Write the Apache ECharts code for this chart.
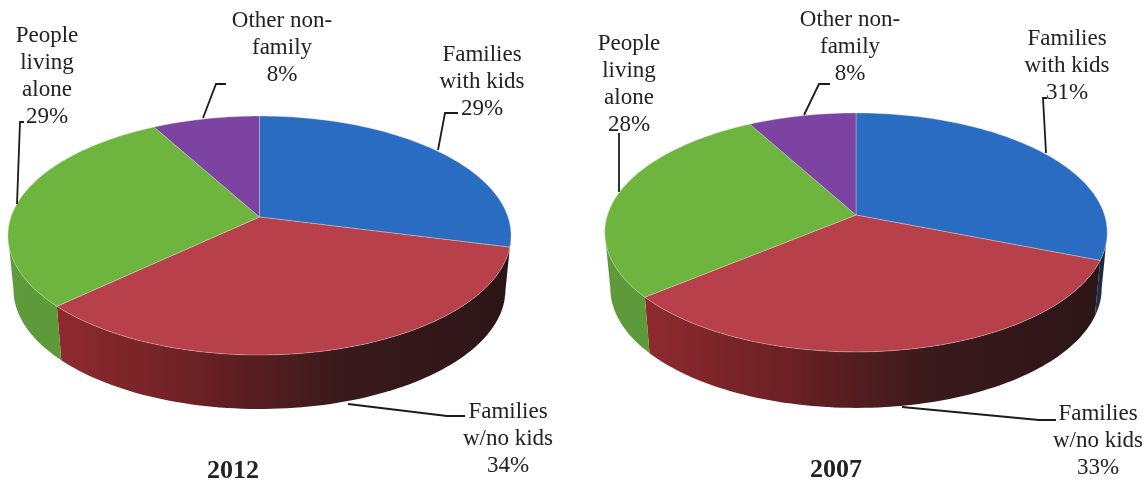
<!DOCTYPE html>
<html>
<head>
<meta charset="utf-8">
<style>html,body{margin:0;padding:0;background:#fff}#chart{width:1148px;height:482px}</style>
<script src="https://cdn.jsdelivr.net/npm/echarts@6/dist/echarts.min.js"></script>
</head>
<body>
<div id="chart"></div>
<script>
// Household shares, clockwise from twelve o'clock.
const categoryLines = [
  ['Families', 'with kids'],
  ['Families', 'w/no kids'],
  ['People', 'living', 'alone'],
  ['Other non-', 'family']
];
const years = ['2012', '2007'];
const values2012 = [29, 34, 29, 8];
const values2007 = [31, 33, 28, 8];

const topColors = ['#2a6cc2', '#b8404a', '#6db53e', '#7c43a2'];
const sideFills = [
  ['#23344f', '#1b2434'],
  ['#8f2a2f', '#2c1517'],
  ['#5f9a3c', '#5c9a3a'],
  ['#4a2a66', '#4a2a66']
];

// Tilted disc: apex position, half widths, perspective strength and wall height.
const discs = [
  { x: 259.5, y: 217, a: 248.5, b: 116.6, k: -0.155, depth: 54, shrink: 0.978 },
  { x: 856, y: 215, a: 248.5, b: 116.9, k: -0.146, depth: 56, shrink: 0.978 }
];

// Label centres and leader polylines, per disc and category.
const labelLayouts = [
  [
    { x: 482, y: 41, line: [[438, 150], [445, 113], [458, 113]] },
    { x: 508, y: 398, line: [[348, 404], [447, 416], [465, 416]] },
    { x: 47, y: 22, line: [[17, 204], [20, 122], [24, 122]] },
    { x: 282, y: 7, line: [[203, 118], [216, 84], [226, 84]] }
  ],
  [
    { x: 1067, y: 25, line: [[1046, 153], [1043, 98], [1047, 98]] },
    { x: 1098, y: 400, line: [[902, 407], [1039, 420], [1056, 420]] },
    { x: 629, y: 30, line: [[619, 192], [619, 133]] },
    { x: 850, y: 6, line: [[804, 115], [819, 84], [830, 84]] }
  ]
];

const TEXT_FONT = '23px "Liberation Serif"';
const TEXT_COLOR = '#222222';

function rimPoint(d, deg) {
  const t = deg * Math.PI / 180;
  const u = Math.sin(t), v = -Math.cos(t);
  const w = 1 + d.k * v;
  return [d.x + d.a * u / w, d.y + d.b * v / w];
}

function arcPoints(d, from, to) {
  const pts = [];
  const n = Math.max(2, Math.ceil((to - from) / 1.5));
  for (let i = 0; i <= n; i++) pts.push(rimPoint(d, from + (to - from) * i / n));
  return pts;
}

function pieSeries(discIndex, values) {
  const d = discs[discIndex];
  const total = values.reduce((s, v) => s + v, 0);
  // Rim angle where the wall starts and stops being visible.
  const silhouette = Math.acos(d.k) * 180 / Math.PI;
  return {
    type: 'custom',
    coordinateSystem: 'none',
    silent: true,
    animation: false,
    data: values.map(v => [v]),
    renderItem(params, api) {
      const i = params.dataIndex;
      const before = values.slice(0, i).reduce((s, v) => s + v, 0);
      const start = before / total * 360;
      const end = (before + api.value(0)) / total * 360;
      const children = [];

      const wallFrom = Math.max(start, silhouette);
      const wallTo = Math.min(end, 360 - silhouette);
      if (wallTo > wallFrom) {
        const upper = arcPoints(d, wallFrom, wallTo);
        const lower = upper.map(p => [d.x + (p[0] - d.x) * d.shrink, p[1] + d.depth]).reverse();
        const fill = sideFills[i];
        children.push({
          type: 'polygon',
          shape: { points: upper.concat(lower) },
          style: {
            fill: {
              type: 'linear', x: 1, y: 0, x2: 0, y2: 0,
              colorStops: i === 1
                ? [{ offset: 0, color: fill[1] }, { offset: 0.38, color: '#3a1a1c' },
                   { offset: 0.68, color: '#6a2024' }, { offset: 1, color: fill[0] }]
                : [{ offset: 0, color: fill[1] }, { offset: 1, color: fill[0] }]
            }
          }
        });
      }

      children.push({
        type: 'polygon',
        shape: { points: [[d.x, d.y]].concat(arcPoints(d, start, end)) },
        style: { fill: topColors[i], stroke: 'rgba(225,225,215,0.45)', lineWidth: 0.8, lineJoin: 'round' }
      });

      const layout = labelLayouts[discIndex][i];
      children.push({
        type: 'polyline',
        shape: { points: layout.line },
        style: { fill: null, stroke: '#1c1c1c', lineWidth: 1.8 }
      });
      children.push({
        type: 'text',
        style: {
          text: categoryLines[i].concat(api.value(0) + '%').join('\n'),
          x: layout.x,
          y: layout.y,
          align: 'center',
          verticalAlign: 'top',
          font: TEXT_FONT,
          lineHeight: 27,
          fill: TEXT_COLOR
        }
      });
      return { type: 'group', children };
    }
  };
}

const chart = echarts.init(document.getElementById('chart'), null, { renderer: 'canvas' });
const yearTextStyle = {
  fontFamily: 'Liberation Serif', fontWeight: 'bold', fontSize: 26, color: '#222'
};
chart.setOption({
  backgroundColor: '#ffffff',
  animation: false,
  title: [
    { text: years[0], left: 228, top: 453, textAlign: 'center', textStyle: yearTextStyle },
    { text: years[1], left: 831, top: 452, textAlign: 'center', textStyle: yearTextStyle }
  ],
  series: [pieSeries(0, values2012), pieSeries(1, values2007)]
});
</script>
</body>
</html>
